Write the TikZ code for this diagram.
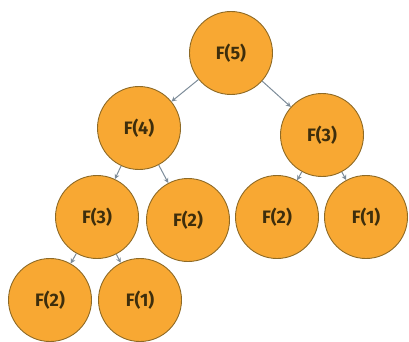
\documentclass[tikz,border=0pt]{standalone}
\usepackage{fontspec}
\setmainfont{Fira Sans}
\usetikzlibrary{arrows.meta}
\definecolor{callfill}{HTML}{F8A833}
\definecolor{callrim}{HTML}{8E6A26}
\definecolor{calltext}{HTML}{3E2E0C}
\definecolor{linkcol}{HTML}{7D8C99}
\begin{document}
\begin{tikzpicture}[x=1pt,y=-1pt,
  call/.style={circle,fill=callfill,draw=callrim,line width=0.9pt,
    minimum size=83pt,inner sep=0pt,text=calltext,
    font=\fontsize{18}{20}\selectfont\bfseries},
  link/.style={draw=linkcol,line width=1pt,-{Stealth[length=5pt,width=5pt]}}]
\useasboundingbox (0,0) rectangle (409,342);
% call tree of the recursive Fibonacci function
\node[call] (f5)  at (231,53)  {F(5)};
\node[call] (f4)  at (139,128) {F(4)};
\node[call] (f3r) at (322,135) {F(3)};
\node[call] (f3l) at (97,217)  {F(3)};
\node[call] (f2m) at (188,220) {F(2)};
\node[call] (f2r) at (277,217) {F(2)};
\node[call] (f1r) at (366,217) {F(1)};
\node[call] (f2b) at (50,300)  {F(2)};
\node[call] (f1b) at (140,300) {F(1)};
\draw[link] (f5) -- (f4);
\draw[link] (f5) -- (f3r);
\draw[link] (f4) -- (f3l);
\draw[link] (f4) -- (f2m);
\draw[link] (f3r) -- (f2r);
\draw[link] (f3r) -- (f1r);
\draw[link] (f3l) -- (f2b);
\draw[link] (f3l) -- (f1b);
\end{tikzpicture}
\end{document}
